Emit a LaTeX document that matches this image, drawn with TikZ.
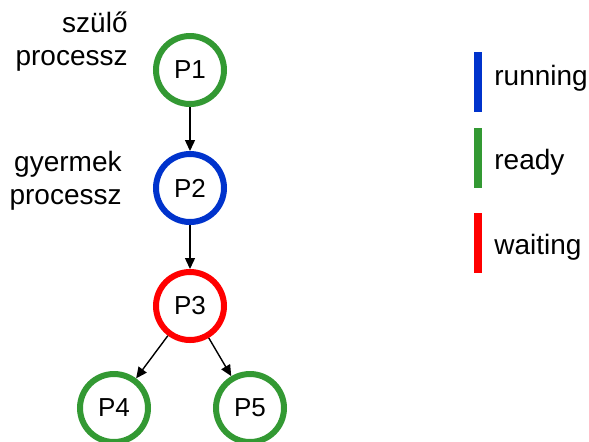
\documentclass[tikz,border=0pt]{standalone}
\usepackage{fontspec}
\setmainfont{Liberation Sans}
\usetikzlibrary{arrows.meta}

\definecolor{stready}{RGB}{51,153,51}
\definecolor{strunning}{RGB}{0,51,204}
\definecolor{stwaiting}{RGB}{255,0,0}

\begin{document}
\begin{tikzpicture}[x=0.5pt,y=-0.5pt]
	\tikzstyle{proc}=[circle, draw, line width=3pt, minimum size=34pt, inner sep=0pt, font=\fontsize{13}{15}\selectfont]
	\tikzstyle{edge}=[-{Triangle[length=5.5pt,width=5pt]}, line width=0.7pt]
	\tikzstyle{lbl}=[align=right, inner sep=0pt, font=\fontsize{14}{16.5}\selectfont]
	\tikzstyle{legbar}=[rectangle, inner sep=0pt, minimum width=4pt, minimum height=30pt]
	\tikzstyle{legtxt}=[anchor=west, inner sep=0pt, font=\fontsize{14}{16.5}\selectfont]

	\useasboundingbox (0,0) rectangle (589,441);

	%% process tree
	\node [proc, draw=stready]   (p1) at (190,70)  {P1};
	\node [proc, draw=strunning] (p2) at (190,188) {P2};
	\node [proc, draw=stwaiting] (p3) at (190,306) {P3};
	\node [proc, draw=stready]   (p4) at (114,408) {P4};
	\node [proc, draw=stready]   (p5) at (250,408) {P5};

	\draw [edge] (p1) -- (p2);
	\draw [edge] (p2) -- (p3);
	\draw [edge] (p3) -- (p4);
	\draw [edge] (p3) -- (p5);

	%% labels
	\node [lbl, anchor=east] (szulo)   at (128,42)  {szülő\\processz};
	\node [lbl, anchor=east] (gyermek) at (122,181) {gyermek\\processz};

	%% legend
	\node [legbar, fill=strunning] (bar1) at (478,82)  {};
	\node [legbar, fill=stready]   (bar2) at (478,158) {};
	\node [legbar, fill=stwaiting] (bar3) at (478,243) {};
	\node [legtxt] (running) at (494,78)  {running};
	\node [legtxt] (ready)   at (494,162) {ready};
	\node [legtxt] (waiting) at (494,247) {waiting};

\end{tikzpicture}
\end{document}
